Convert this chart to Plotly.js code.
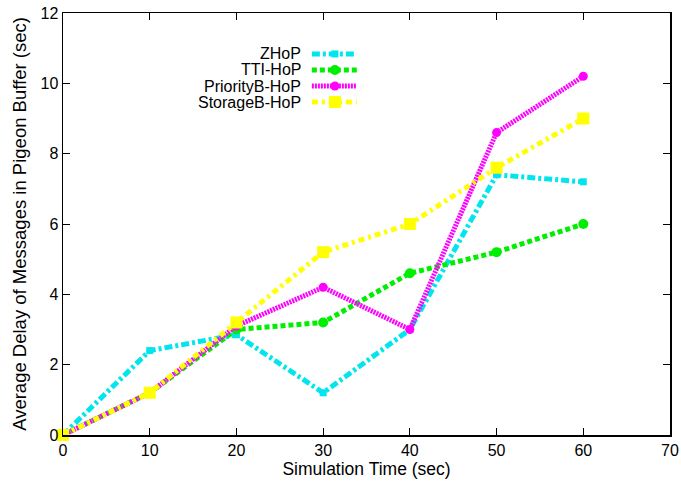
<!DOCTYPE html>
<html><head><meta charset="utf-8">
<script src="https://cdn.plot.ly/plotly-3.0.1.min.js"></script>
<style>body{margin:0;padding:0;background:#fff}#chart{width:681px;height:488px}</style>
</head><body><div id="chart"></div>
<script>
const time = [0, 10, 20, 30, 40, 50, 60];
const zhop = [0, 2.4, 2.85, 1.2, 3.0, 7.4, 7.2];
const ttiHop = [0, 1.2, 3.0, 3.2, 4.6, 5.2, 6.0];
const priorityHop = [0, 1.2, 3.1, 4.2, 3.0, 8.6, 10.2];
const storageHop = [0, 1.2, 3.2, 5.2, 6.0, 7.6, 9.0];
const seriesNames = ['ZHoP', 'TTI-HoP', 'PriorityB-HoP', 'StorageB-HoP'];
const xTicks = [0, 10, 20, 30, 40, 50, 60, 70];
const yTicks = [0, 2, 4, 6, 8, 10, 12];

const styles = [
  {color: '#00e5ee', dash: '8px,3px,3px,3px', width: 5, symbol: 'square', size: 7},
  {color: '#00ee00', dash: '5px,3px', width: 5, symbol: 'circle', size: 10},
  {color: '#ff00ff', dash: '2px,1px', width: 5, symbol: 'circle', size: 9},
  {color: '#ffff00', dash: '6px,4px,3px,4px', width: 5, symbol: 'square', size: 12}
];
const values = [zhop, ttiHop, priorityHop, storageHop];

const traces = [];
values.forEach((v, i) => {
  traces.push({x: time, y: v, type: 'scatter', mode: 'lines+markers', name: seriesNames[i],
    line: {color: styles[i].color, dash: styles[i].dash, width: styles[i].width},
    marker: {color: styles[i].color, symbol: styles[i].symbol, size: styles[i].size},
    showlegend: false, cliponaxis: false});
});
// legend samples on an overlay axis (0..1 paper-like)
const legY = [0.903, 0.865, 0.827, 0.789];
const annotations = [];
values.forEach((v, i) => {
  traces.push({x: [0.41, 0.448, 0.484], y: [legY[i], legY[i], legY[i]], xaxis: 'x2', yaxis: 'y2',
    type: 'scatter', mode: 'lines', line: {color: styles[i].color, dash: styles[i].dash, width: styles[i].width},
    showlegend: false, hoverinfo: 'skip'});
  traces.push({x: [0.448], y: [legY[i]], xaxis: 'x2', yaxis: 'y2', type: 'scatter', mode: 'markers',
    marker: {color: styles[i].color, symbol: styles[i].symbol, size: styles[i].size}, showlegend: false, hoverinfo: 'skip'});
  annotations.push({xref: 'x2', yref: 'y2', x: 0.396, y: legY[i], text: seriesNames[i], showarrow: false,
    xanchor: 'right', yanchor: 'middle', font: {size: 16, color: '#000'}});
});

const layout = {
  width: 681, height: 488,
  margin: {l: 63, r: 11, t: 13, b: 53},
  paper_bgcolor: '#fff', plot_bgcolor: '#fff',
  font: {family: 'Liberation Sans, Arial, sans-serif', size: 16, color: '#000'},
  showlegend: false,
  xaxis: {range: [0, 70], tickvals: xTicks, ticktext: xTicks.map(String), showgrid: false, zeroline: false,
    showline: true, linecolor: '#000', linewidth: 1.5, mirror: 'ticks', ticks: 'inside', ticklen: 7, tickcolor: '#000',
    title: {text: 'Simulation Time (sec)', font: {size: 17.5}, standoff: 4}},
  yaxis: {range: [0, 12], tickvals: yTicks, ticktext: yTicks.map(String), showgrid: false, zeroline: false,
    showline: true, linecolor: '#000', linewidth: 1.5, mirror: 'ticks', ticks: 'inside', ticklen: 7, tickcolor: '#000',
    title: {text: 'Average Delay of Messages in Pigeon Buffer (sec)', font: {size: 18.5}, standoff: 9}},
  xaxis2: {overlaying: 'x', range: [0, 1], visible: false, fixedrange: true},
  yaxis2: {overlaying: 'y', range: [0, 1], visible: false, fixedrange: true},
  annotations: annotations
};
Plotly.newPlot('chart', traces, layout, {staticPlot: true, displayModeBar: false});
</script></body></html>
